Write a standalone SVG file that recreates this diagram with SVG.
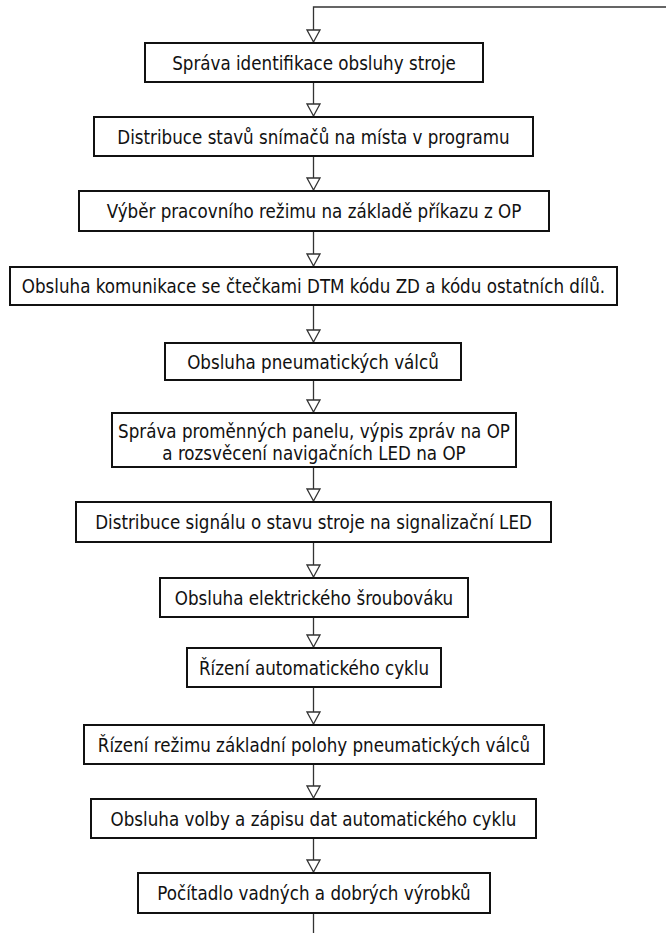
<svg xmlns="http://www.w3.org/2000/svg" width="666" height="933" viewBox="0 0 666 933">
<style>
.box{fill:#fff;stroke:#111;stroke-width:2}
.lbl{font-family:"DejaVu Sans Condensed","DejaVu Sans",sans-serif;font-size:18.6px;fill:#111;text-anchor:middle}
.con{fill:none;stroke:#333;stroke-width:1.3}
</style>
<defs>
<marker id="ah" markerUnits="userSpaceOnUse" markerWidth="16" markerHeight="16" viewBox="0 0 16 16" refX="14" refY="8" orient="auto">
<path d="M2,1.5 L14,8 L2,14.5 Z" fill="#fff" stroke="#333" stroke-width="1.3"/>
</marker>
</defs>
<rect width="666" height="933" fill="#fff"/>
<g id="connectors">
<path class="con" d="M666,7 H313.5 V42" marker-end="url(#ah)"/>
<path class="con" d="M313.5,82 V116" marker-end="url(#ah)"/>
<path class="con" d="M313.5,156 V190" marker-end="url(#ah)"/>
<path class="con" d="M313.5,231 V266" marker-end="url(#ah)"/>
<path class="con" d="M313.5,305 V342" marker-end="url(#ah)"/>
<path class="con" d="M313.5,380 V412" marker-end="url(#ah)"/>
<path class="con" d="M313.5,467 V501" marker-end="url(#ah)"/>
<path class="con" d="M313.5,542 V577" marker-end="url(#ah)"/>
<path class="con" d="M313.5,617 V647" marker-end="url(#ah)"/>
<path class="con" d="M313.5,687 V724" marker-end="url(#ah)"/>
<path class="con" d="M313.5,764 V798" marker-end="url(#ah)"/>
<path class="con" d="M313.5,838 V872" marker-end="url(#ah)"/>
<path class="con" d="M313.5,913 V933"/>
</g>
<g id="n1"><rect class="box" x="145" y="43" width="338" height="39"/><text class="lbl" x="314" y="69.5">Správa identifikace obsluhy stroje</text></g>
<g id="n2"><rect class="box" x="94" y="117" width="439" height="39"/><text class="lbl" x="313.5" y="143.5">Distribuce stavů snímačů na místa v programu</text></g>
<g id="n3"><rect class="box" x="79" y="191" width="470" height="40"/><text class="lbl" x="314" y="218">Výběr pracovního režimu na základě příkazu z OP</text></g>
<g id="n4"><rect class="box" x="10" y="267" width="607" height="38"/><text class="lbl" x="313.5" y="293">Obsluha komunikace se čtečkami DTM kódu ZD a kódu ostatních dílů.</text></g>
<g id="n5"><rect class="box" x="165" y="343" width="296" height="37"/><text class="lbl" x="313" y="368.5">Obsluha pneumatických válců</text></g>
<g id="n6"><rect class="box" x="112" y="413" width="404" height="54"/><text class="lbl" x="314" y="438">Správa proměnných panelu, výpis zpráv na OP</text><text class="lbl" x="314" y="460">a rozsvěcení navigačních LED na OP</text></g>
<g id="n7"><rect class="box" x="76" y="502" width="475" height="40"/><text class="lbl" x="313.5" y="529">Distribuce signálu o stavu stroje na signalizační LED</text></g>
<g id="n8"><rect class="box" x="160" y="578" width="308" height="39"/><text class="lbl" x="314" y="604.5">Obsluha elektrického šroubováku</text></g>
<g id="n9"><rect class="box" x="187" y="648" width="254" height="39"/><text class="lbl" x="314" y="674.5">Řízení automatického cyklu</text></g>
<g id="n10"><rect class="box" x="84" y="725" width="460" height="39"/><text class="lbl" x="314" y="751.5">Řízení režimu základní polohy pneumatických válců</text></g>
<g id="n11"><rect class="box" x="91" y="799" width="445" height="39"/><text class="lbl" x="313.5" y="825.5">Obsluha volby a zápisu dat automatického cyklu</text></g>
<g id="n12"><rect class="box" x="138" y="873" width="352" height="40"/><text class="lbl" x="314" y="900">Počítadlo vadných a dobrých výrobků</text></g>
</svg>
